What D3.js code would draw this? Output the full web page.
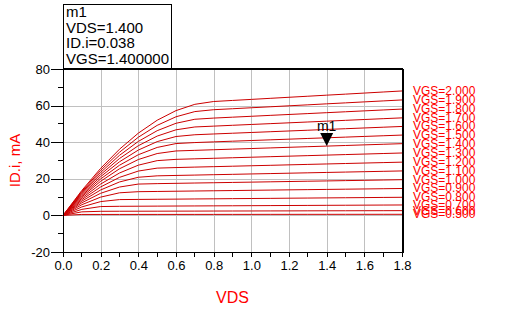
<!DOCTYPE html>
<html>
<head>
<meta charset="utf-8">
<script src="https://cdn.jsdelivr.net/npm/d3@7"></script>
<style>
  html, body { margin: 0; padding: 0; background: #ffffff; }
  svg { display: block; font-family: "Liberation Sans", Arial, sans-serif; }
</style>
</head>
<body>
<svg id="chart" width="524" height="326"></svg>
<script>
// Drain current ID (mA) versus drain voltage VDS (V), one trace per gate voltage
const vds = [0.0, 0.1, 0.2, 0.3, 0.4, 0.5, 0.6, 0.7, 0.8, 0.9, 1.0, 1.1, 1.2, 1.3, 1.4, 1.5, 1.6, 1.7, 1.8];
const vgs = [2.0, 1.9, 1.8, 1.7, 1.6, 1.5, 1.4, 1.3, 1.2, 1.1, 1.0, 0.9, 0.8, 0.7, 0.6, 0.5];

const idVgs200 = [0, 13.64, 25.72, 36.17, 44.95, 52.00, 57.27, 60.70, 62.24, 62.82, 63.39, 63.97, 64.55, 65.12, 65.70, 66.27, 66.85, 67.43, 68.00];
const idVgs190 = [0, 13.10, 24.62, 34.52, 42.73, 49.20, 53.89, 56.73, 57.75, 58.28, 58.82, 59.35, 59.89, 60.42, 60.96, 61.49, 62.03, 62.56, 63.09];
const idVgs180 = [0, 12.55, 23.50, 32.82, 40.43, 46.29, 50.34, 52.54, 53.18, 53.67, 54.16, 54.66, 55.15, 55.64, 56.13, 56.63, 57.12, 57.61, 58.10];
const idVgs170 = [0, 11.98, 22.35, 31.08, 38.09, 43.34, 46.77, 48.33, 48.78, 49.24, 49.69, 50.14, 50.59, 51.04, 51.49, 51.95, 52.40, 52.85, 53.30];
const idVgs160 = [0, 11.40, 21.18, 29.30, 35.70, 40.32, 43.11, 44.07, 44.49, 44.90, 45.31, 45.72, 46.13, 46.54, 46.96, 47.37, 47.78, 48.19, 48.60];
const idVgs150 = [0, 10.78, 19.93, 27.41, 33.16, 37.13, 39.25, 39.80, 40.18, 40.55, 40.92, 41.29, 41.66, 42.04, 42.41, 42.78, 43.15, 43.52, 43.90];
const idVgs140 = [0, 10.15, 18.65, 25.47, 30.53, 33.80, 35.21, 35.55, 35.88, 36.21, 36.54, 36.87, 37.21, 37.54, 37.87, 38.20, 38.54, 38.87, 39.20];
const idVgs130 = [0, 9.39, 17.13, 23.17, 27.45, 29.93, 30.63, 30.92, 31.21, 31.50, 31.79, 32.08, 32.37, 32.66, 32.95, 33.24, 33.52, 33.81, 34.10];
const idVgs120 = [0, 8.61, 15.56, 20.78, 24.23, 25.84, 26.14, 26.39, 26.63, 26.88, 27.13, 27.37, 27.62, 27.87, 28.11, 28.36, 28.61, 28.85, 29.10];
const idVgs110 = [0, 7.79, 13.90, 18.27, 20.84, 21.62, 21.83, 22.03, 22.24, 22.44, 22.65, 22.85, 23.06, 23.27, 23.47, 23.68, 23.88, 24.09, 24.30];
const idVgs100 = [0, 6.89, 12.08, 15.50, 17.12, 17.36, 17.52, 17.69, 17.85, 18.02, 18.18, 18.35, 18.51, 18.68, 18.84, 19.01, 19.17, 19.34, 19.51];
const idVgs090 = [0, 5.85, 9.99, 12.35, 12.96, 13.08, 13.21, 13.33, 13.46, 13.58, 13.71, 13.83, 13.96, 14.08, 14.20, 14.33, 14.45, 14.58, 14.70];
const idVgs080 = [0, 4.64, 7.55, 8.64, 8.73, 8.81, 8.89, 8.98, 9.06, 9.15, 9.23, 9.31, 9.40, 9.48, 9.56, 9.65, 9.73, 9.82, 9.90];
const idVgs070 = [0, 3.30, 4.83, 4.97, 5.02, 5.07, 5.12, 5.17, 5.22, 5.26, 5.31, 5.36, 5.41, 5.46, 5.51, 5.55, 5.60, 5.65, 5.70];
const idVgs060 = [0, 1.94, 2.24, 2.27, 2.29, 2.31, 2.33, 2.35, 2.38, 2.40, 2.42, 2.44, 2.46, 2.49, 2.51, 2.53, 2.55, 2.57, 2.60];
const idVgs050 = [0, 0.52, 0.52, 0.53, 0.53, 0.54, 0.54, 0.55, 0.55, 0.56, 0.56, 0.57, 0.57, 0.58, 0.58, 0.59, 0.59, 0.60, 0.60];

const xTicks = [0.0, 0.2, 0.4, 0.6, 0.8, 1.0, 1.2, 1.4, 1.6, 1.8];
const yTicks = [-20, 0, 20, 40, 60, 80];
const xMinorTicks = [0.1, 0.3, 0.5, 0.7, 0.9, 1.1, 1.3, 1.5, 1.7];
const yMinorTicks = [-10, 10, 30, 50, 70];

// marker m1
const markerName = "m1";
const markerVds = 1.4;
const markerVgs = 1.4;

const idByVgs = [idVgs200, idVgs190, idVgs180, idVgs170, idVgs160, idVgs150, idVgs140, idVgs130,
                 idVgs120, idVgs110, idVgs100, idVgs090, idVgs080, idVgs070, idVgs060, idVgs050];
const series = vgs.map((g, i) => ({ vgs: g, points: vds.map((v, j) => [v, idByVgs[i][j]]) }));

const svg = d3.select("#chart");
const plotLeft = 63, plotRight = 402, plotTop = 69, plotBottom = 252;

const x = d3.scaleLinear().domain([0, 1.8]).range([plotLeft, plotRight]);
const y = d3.scaleLinear().domain([-20, 80]).range([plotBottom, plotTop]);

const red = "#ff0000";
const traceColor = "#cc0000";

// grid
const grid = svg.append("g").attr("stroke", "#c0c0c0").attr("stroke-width", 1).attr("shape-rendering", "crispEdges");
grid.selectAll(".gx").data(xTicks.slice(1, -1)).join("line")
  .attr("x1", d => Math.round(x(d)) + 0.5).attr("x2", d => Math.round(x(d)) + 0.5)
  .attr("y1", plotTop).attr("y2", plotBottom);
grid.selectAll(".gy").data(yTicks.slice(1, -1)).join("line")
  .attr("y1", d => Math.round(y(d)) + 0.5).attr("y2", d => Math.round(y(d)) + 0.5)
  .attr("x1", plotLeft).attr("x2", plotRight);

// axes (plain hyphen for negative numbers)
const intFmt = d => String(d);
const xAxis = d3.axisBottom(x).tickValues(xTicks).tickFormat(d3.format(".1f")).tickSize(5).tickPadding(4);
const yAxis = d3.axisLeft(y).tickValues(yTicks).tickFormat(intFmt).tickSize(12).tickPadding(1);

const gx = svg.append("g").attr("transform", `translate(0,${plotBottom})`).call(xAxis);
const gy = svg.append("g").attr("transform", `translate(${plotLeft},0)`).call(yAxis);
[gx, gy].forEach(g => {
  g.select(".domain").remove();
  g.selectAll("line").attr("stroke", "#000").attr("shape-rendering", "crispEdges");
  g.selectAll("text").attr("font-size", 13).attr("fill", "#000")
    .attr("font-family", "'Liberation Sans', Arial, sans-serif");
});

svg.append("g").attr("stroke", "#000").attr("shape-rendering", "crispEdges")
  .selectAll("line").data(xMinorTicks).join("line")
  .attr("x1", d => x(d)).attr("x2", d => x(d)).attr("y1", plotBottom).attr("y2", plotBottom + 5);
svg.append("g").attr("stroke", "#000").attr("shape-rendering", "crispEdges")
  .selectAll("line").data(yMinorTicks).join("line")
  .attr("y1", d => y(d)).attr("y2", d => y(d)).attr("x1", plotLeft - 5).attr("x2", plotLeft);

// traces
const line = d3.line().x(d => x(d[0])).y(d => y(d[1]));
svg.append("g").attr("fill", "none").attr("stroke", traceColor).attr("stroke-width", 1)
  .selectAll("path").data(series).join("path").attr("d", d => line(d.points));

// frame
const frame = svg.append("g").attr("stroke", "#000").attr("shape-rendering", "crispEdges");
frame.append("line").attr("x1", plotLeft + 0.5).attr("x2", plotLeft + 0.5).attr("y1", plotTop).attr("y2", plotBottom + 0.5);
frame.append("line").attr("x1", plotLeft).attr("x2", plotRight + 1).attr("y1", plotBottom + 0.5).attr("y2", plotBottom + 0.5);
frame.append("line").attr("x1", plotLeft).attr("x2", plotRight + 1).attr("y1", plotTop).attr("y2", plotTop).attr("stroke-width", 2);
frame.append("line").attr("x1", plotRight + 1).attr("x2", plotRight + 1).attr("y1", plotTop).attr("y2", plotBottom + 1).attr("stroke-width", 2);

// trace labels at the right end
svg.append("g").attr("fill", red).attr("font-size", 12)
  .selectAll("text").data(series).join("text")
  .attr("x", 413)
  .attr("y", d => y(d.points[d.points.length - 1][1]) + 4)
  .text(d => "VGS=" + d3.format(".3f")(d.vgs));

// axis titles
svg.append("text").attr("x", x(0.9)).attr("y", 303).attr("text-anchor", "middle")
  .attr("font-size", 16).attr("fill", red).text("VDS");
svg.append("text").attr("transform", `translate(20,${(plotTop + plotBottom) / 2}) rotate(-90)`)
  .attr("text-anchor", "middle").attr("font-size", 15).attr("fill", red).text("ID.i, mA");

// marker m1
const mSeries = series.find(s => s.vgs === markerVgs);
const mId = mSeries.points.find(p => Math.abs(p[0] - markerVds) < 1e-9)[1];
const mx = x(markerVds), my = y(mId);
svg.append("path")
  .attr("d", `M${mx - 6.5},${my - 13} L${mx + 6.5},${my - 13} L${mx},${my} Z`)
  .attr("fill", "#000");
svg.append("text").attr("x", mx).attr("y", my - 15).attr("text-anchor", "middle")
  .attr("font-size", 14).attr("fill", "#000").text(markerName);

// marker readout box
const box = svg.append("g");
box.append("rect").attr("x", 63.5).attr("y", 4.5).attr("width", 108).attr("height", 64)
  .attr("fill", "#fff").attr("stroke", "#000").attr("stroke-width", 1);
const readout = [
  markerName,
  "VDS=" + d3.format(".3f")(markerVds),
  "ID.i=" + d3.format(".3f")(mId / 1000),
  "VGS=" + d3.format(".6f")(markerVgs)
];
box.selectAll("text").data(readout).join("text")
  .attr("x", 66).attr("y", (d, i) => 17 + i * 15.6)
  .attr("font-size", 15).attr("fill", "#000").text(d => d);
</script>
</body>
</html>
